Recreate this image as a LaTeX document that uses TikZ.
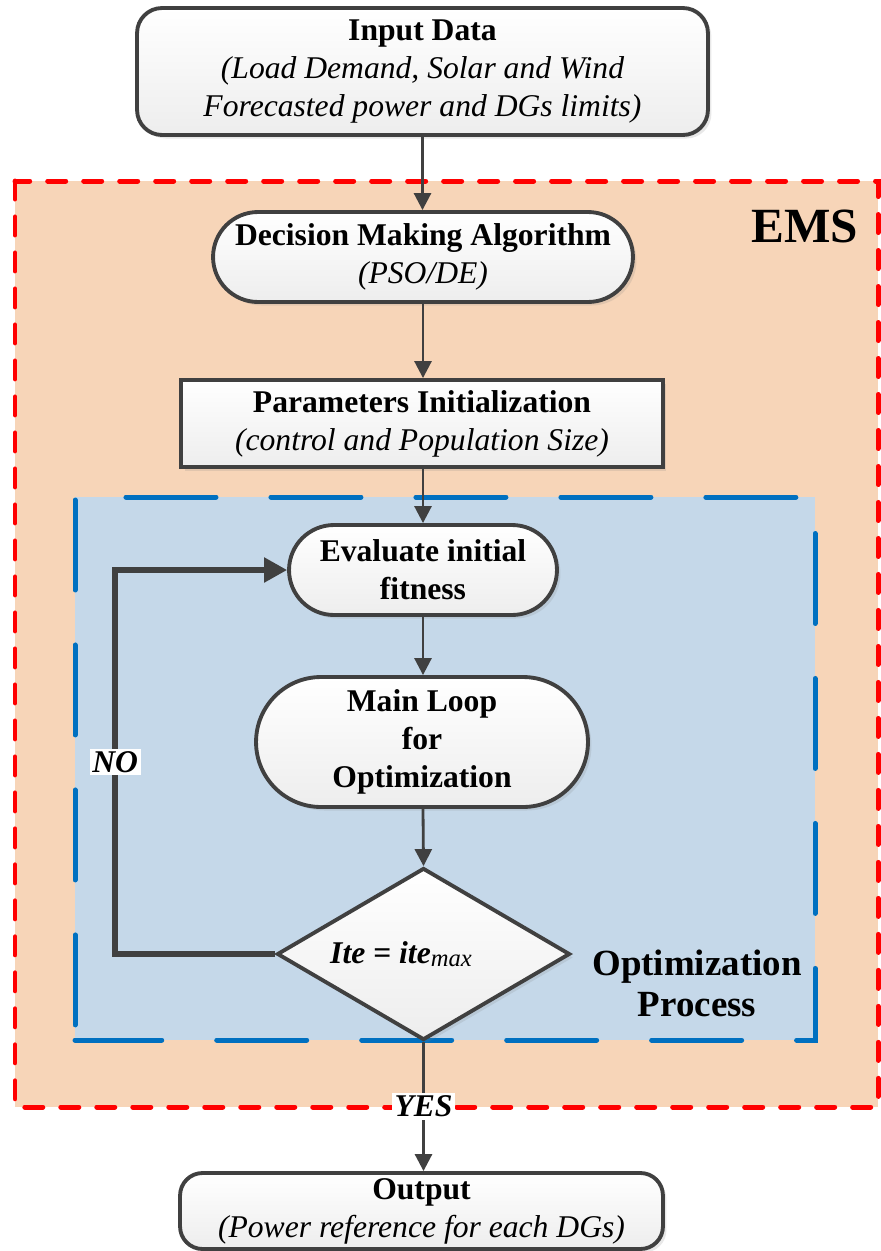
\documentclass[tikz,border=0pt]{standalone}
\usepackage{fontspec}
\setmainfont{Liberation Serif}
\usetikzlibrary{shapes.geometric,arrows.meta,shadows}

\definecolor{emsfill}{RGB}{247,213,184}
\definecolor{optfill}{RGB}{197,216,233}
\definecolor{optline}{RGB}{0,112,192}
\definecolor{flowgray}{RGB}{64,64,64}

\tikzset{
  flowbox/.style={draw=flowgray, line width=2.2pt, top color=white, bottom color=gray!14,
    drop shadow={opacity=0.18, shadow xshift=2pt, shadow yshift=-2pt},
    align=center, inner sep=2pt, font=\fontsize{18}{21.6}\selectfont},
  flowarrow/.style={draw=flowgray, line width=1.6pt, -{Triangle[length=0.34cm,width=0.34cm]}},
  looparrow/.style={draw=flowgray, line width=3pt, -{Triangle[length=0.46cm,width=0.48cm]}},
  yesno/.style={fill=white, inner sep=1.5pt, font=\fontsize{18}{21.6}\selectfont\bfseries\itshape},
  emsframe/.style={draw=red, fill=emsfill, line width=0.1cm, dash pattern=on 0.36cm off 0.36cm, line cap=round},
  optdash/.style={draw=optline, line width=0.1cm, dash pattern=on 1.8cm off 1.1cm, line cap=round}
}

\begin{document}
\begin{tikzpicture}[x=0.02cm, y=-0.02cm]
  \useasboundingbox (0,0) rectangle (880,1251);

  % frames
  \draw[emsframe] (15,181) rectangle (878,1107);
  \fill[optfill] (75,497) rectangle (815,1040);
  \draw[optdash, dash phase=1.88cm] (75,497) -- (815,497);
  \draw[optdash, dash phase=2.84cm] (75,497) -- (75,1040);
  \draw[optdash, dash phase=2.17cm] (815,497) -- (815,1040) -- (75,1040);
  \node (emslabel) at (805,226) {\fontsize{28}{32}\selectfont\bfseries EMS};
  \node[align=center, font=\fontsize{21}{23.4}\selectfont\bfseries] (optlabel) at (697,983) {Optimization\\ Process};

  % blocks
  \node[flowbox, rounded corners=0.5cm, minimum width=11.42cm, minimum height=2.54cm] (input) at (422.5,71.5)
    {{\bfseries Input Data}\\ {\itshape (Load Demand, Solar and Wind}\\ {\itshape Forecasted power and DGs limits)}};
  \node[flowbox, rounded corners=0.9cm, minimum width=8.4cm, minimum height=1.8cm] (decision) at (423,257)
    {{\bfseries Decision Making Algorithm}\\ {\itshape (PSO/DE)}};
  \node[flowbox, minimum width=9.64cm, minimum height=1.74cm] (param) at (422,423.5)
    {{\bfseries Parameters Initialization}\\ {\itshape (control and Population Size)}};
  \node[flowbox, rounded corners=0.9cm, minimum width=5.36cm, minimum height=1.8cm] (eval) at (423,570)
    {\bfseries Evaluate initial\\ \bfseries fitness};
  \node[flowbox, rounded corners=1.3cm, minimum width=6.64cm, minimum height=2.6cm] (mainloop) at (422,742)
    {\bfseries Main Loop\\ \bfseries for\\ \bfseries Optimization};
  \node[flowbox, diamond, inner sep=0pt, minimum width=5.86cm, minimum height=3.44cm] (cond) at (423.5,954)
    {\makebox[0pt]{\hspace*{-0.9cm}\textbf{\textit{Ite = ite}}\raisebox{-0.25ex}{\fontsize{14}{16}\selectfont\itshape max}}};
  \node[flowbox, rounded corners=0.45cm, minimum width=9.66cm, minimum height=1.52cm] (output) at (421.5,1211)
    {{\bfseries Output}\\ {\itshape (Power reference for each DGs)}};

  % connectors
  \draw[flowarrow] (input.south) -- (input.south |- decision.north);
  \draw[flowarrow] (decision.south) -- (decision.south |- param.north);
  \draw[flowarrow] (decision.south |- param.south) -- (eval.north);
  \draw[flowarrow] (eval.south) -- (eval.south |- mainloop.north);
  \draw[flowarrow] (eval.south |- mainloop.south) -- (cond.north);
  \draw[flowarrow] (cond.south) -- node[yesno] {YES} (cond.south |- output.north);
  \draw[looparrow] (cond.west) -- ++(-160,0) |- node[pos=0.25, yesno] {NO} (eval.west);
\end{tikzpicture}
\end{document}
